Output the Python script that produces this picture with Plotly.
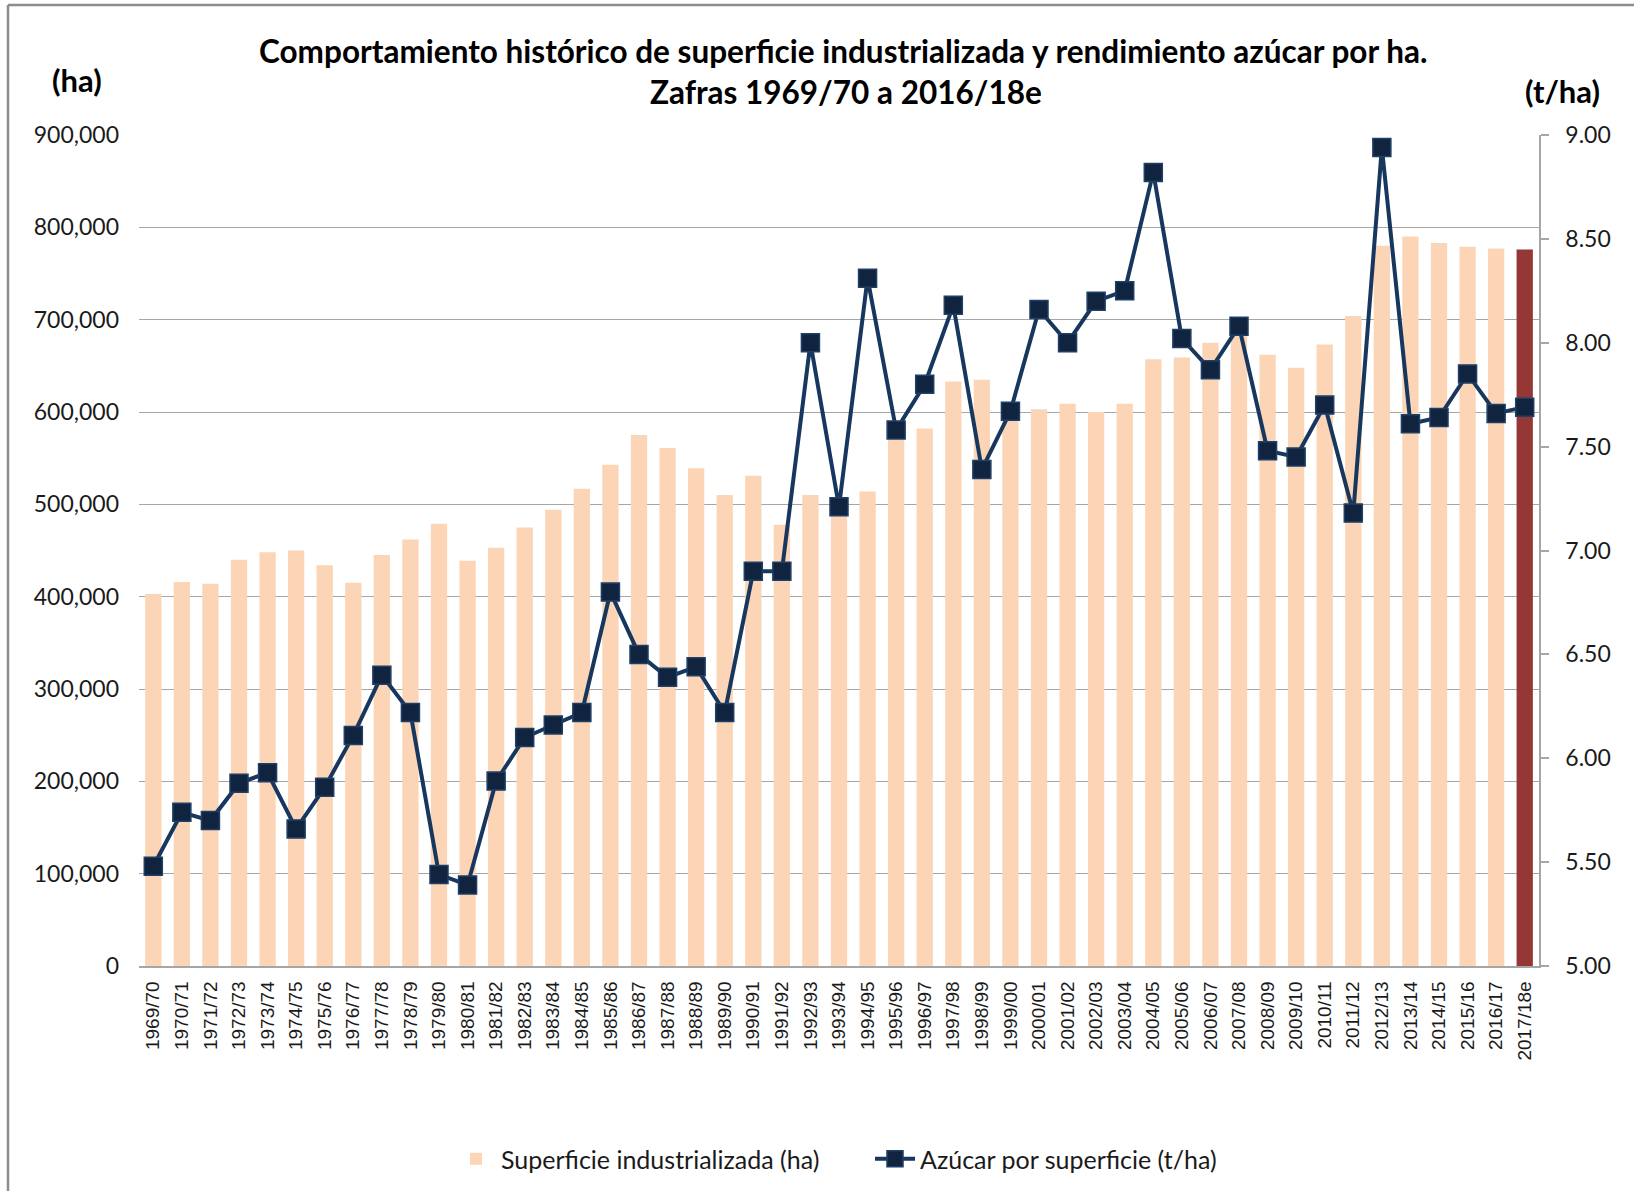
import plotly.graph_objects as go

# ---------------- data ----------------
zafras = [
    "1969/70", "1970/71", "1971/72", "1972/73", "1973/74", "1974/75", "1975/76",
    "1976/77", "1977/78", "1978/79", "1979/80", "1980/81", "1981/82", "1982/83",
    "1983/84", "1984/85", "1985/86", "1986/87", "1987/88", "1988/89", "1989/90",
    "1990/91", "1991/92", "1992/93", "1993/94", "1994/95", "1995/96", "1996/97",
    "1997/98", "1998/99", "1999/00", "2000/01", "2001/02", "2002/03", "2003/04",
    "2004/05", "2005/06", "2006/07", "2007/08", "2008/09", "2009/10", "2010/11",
    "2011/12", "2012/13", "2013/14", "2014/15", "2015/16", "2016/17", "2017/18e",
]

superficie_ha = [
    403000, 416000, 414000, 440000, 448000, 450000, 434000, 415000, 445000, 462000,
    479000, 439000, 453000, 475000, 494000, 517000, 543000, 575000, 561000, 539000,
    510000, 531000, 478000, 510000, 500000, 514000, 580000, 582000, 633000, 635000,
    600000, 603000, 609000, 600000, 609000, 657000, 659000, 675000, 692000, 662000,
    648000, 673000, 704000, 780000, 790000, 783000, 779000, 777000, 776000,
]

azucar_t_ha = [
    5.48, 5.74, 5.70, 5.88, 5.93, 5.66, 5.86, 6.11, 6.40, 6.22,
    5.44, 5.39, 5.89, 6.10, 6.16, 6.22, 6.80, 6.50, 6.39, 6.44,
    6.22, 6.90, 6.90, 8.00, 7.21, 8.31, 7.58, 7.80, 8.18, 7.39,
    7.67, 8.16, 8.00, 8.20, 8.25, 8.82, 8.02, 7.87, 8.08, 7.48,
    7.45, 7.70, 7.18, 8.94, 7.61, 7.64, 7.85, 7.66, 7.69,
]

left_ticks = [0, 100000, 200000, 300000, 400000, 500000, 600000, 700000, 800000, 900000]
right_ticks = [5.0, 5.5, 6.0, 6.5, 7.0, 7.5, 8.0, 8.5, 9.0]

# ---------------- styling ----------------
W_PX, H_PX = 1634, 1191
PL, PR, PT, PB = 139, 1539, 135, 966
PW, PH = PR - PL, PB - PT

def px2x(px):
    return (px - PL) / PW

def py2y(py):
    return (PB - py) / PH

BAR = "#FBD5B5"
BAR_LAST = "#953735"
LINE = "#17375E"
MARK = "#10243F"
GRID = "#A6A6A6"
TXT = "#1a1a1a"

bar_colors = [BAR] * (len(zafras) - 1) + [BAR_LAST]

fig = go.Figure()
fig.add_trace(go.Bar(
    x=zafras, y=superficie_ha,
    name="Superficie industrializada (ha)",
    marker=dict(color=bar_colors, line=dict(width=0)),
    yaxis="y",
))
fig.add_trace(go.Scatter(
    x=zafras, y=azucar_t_ha,
    name="Azúcar por superficie (t/ha)",
    mode="lines+markers",
    line=dict(color=LINE, width=4),
    marker=dict(symbol="square", size=18, color=MARK, line=dict(color="#1F3F66", width=1.5)),
    yaxis="y2",
))

fig.update_layout(
    width=W_PX, height=H_PX,
    margin=dict(l=PL, r=W_PX - PR, t=PT, b=H_PX - PB, autoexpand=False),
    paper_bgcolor="white", plot_bgcolor="white",
    bargap=0.43,
    showlegend=True,
    legend=dict(
        orientation="h",
        xref="container", x=451 / W_PX, xanchor="left",
        yref="container", y=(H_PX - 1159) / H_PX, yanchor="middle",
        font=dict(family="Lato", size=25, color=TXT),
        itemwidth=40, entrywidth=364, tracegroupgap=0,
    ),
    xaxis=dict(
        type="category", tickangle=-90,
        tickfont=dict(family="Liberation Sans", size=19, color=TXT),
        showgrid=False, showline=True, linecolor=GRID, linewidth=1.5,
        ticks="", ticklabelstandoff=6,
        range=[-0.5, len(zafras) - 0.5],
    ),
    yaxis=dict(
        range=[0, 900000], tickvals=left_ticks, tickformat=",",
        showgrid=True, gridcolor=GRID, gridwidth=1.3,
        zeroline=False, showline=False, ticks="",
        tickfont=dict(family="Lato", size=23, color=TXT),
        ticklabelstandoff=19,
    ),
    yaxis2=dict(
        range=[5, 9], tickvals=right_ticks, tickformat=".2f",
        overlaying="y", side="right", showgrid=False, zeroline=False,
        showline=True, linecolor=GRID, linewidth=1.5,
        ticks="outside", ticklen=8, tickcolor=GRID, tickwidth=1.5,
        tickfont=dict(family="Lato", size=23, color=TXT),
        ticklabelstandoff=12,
    ),
    font=dict(family="Lato", color=TXT),
)

annotations = [
    dict(text="<b>Comportamiento histórico de superficie industrializada y rendimiento azúcar por ha.</b>",
         x=px2x(843), y=py2y(51), font=dict(size=31.5)),
    dict(text="<b>Zafras 1969/70 a 2016/18e</b>",
         x=px2x(846), y=py2y(92), font=dict(size=31.5)),
    dict(text="<b>(ha)</b>", x=px2x(77), y=py2y(80), font=dict(size=31)),
    dict(text="<b>(t/ha)</b>", x=px2x(1562), y=py2y(91), font=dict(size=31)),
]
for a in annotations:
    a.update(xref="paper", yref="paper", showarrow=False, xanchor="center", yanchor="middle")
    a["font"].update(family="Lato", color="#000000")
fig.update_layout(annotations=annotations)

border = dict(color="#8C8C8C", width=2.5)
fig.add_shape(type="line", xref="paper", yref="paper",
              x0=px2x(8), y0=py2y(5), x1=px2x(W_PX + 5), y1=py2y(5), line=border)
fig.add_shape(type="line", xref="paper", yref="paper",
              x0=px2x(8), y0=py2y(5), x1=px2x(8), y1=py2y(H_PX + 5), line=border)

fig.write_html(
    "out.html",
    config={"displayModeBar": False},
    post_script="document.body.style.margin='0';document.body.style.overflow='hidden';",
)
